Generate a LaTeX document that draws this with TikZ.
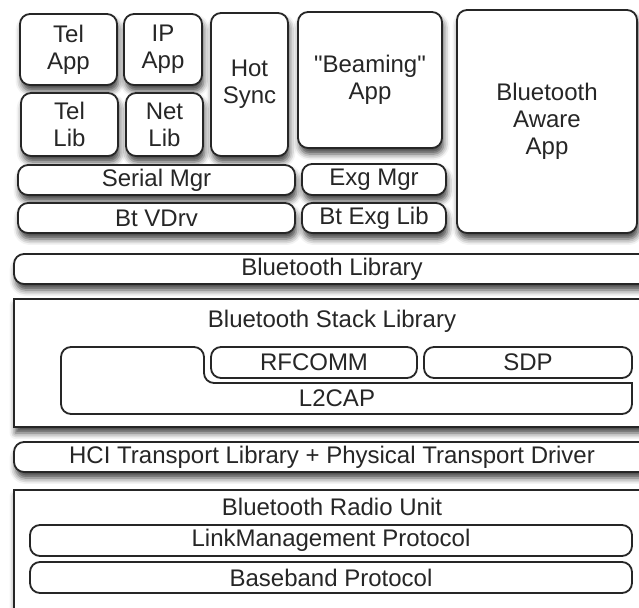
\documentclass[tikz,border=0pt]{standalone}
\usepackage{fontspec}
\setmainfont{Liberation Sans}
\usetikzlibrary{shadows.blur}

\begin{document}
\begin{tikzpicture}[x=0.5pt,y=-0.5pt,
 lbl/.style={font=\fontsize{12}{13.5}\selectfont,text=black!85},
 lay/.style={lbl,draw=black!85,line width=0.9pt,fill=white,rounded corners=5pt,align=center,inner sep=0pt},
 frm/.style={lay,sharp corners},
 sh/.style={blur shadow={shadow xshift=0.8pt,shadow yshift=-3pt,shadow blur radius=3pt,shadow opacity=75}}]
\useasboundingbox (0,0) rectangle (639,608);
\clip (0,0) rectangle (639,608);
% applications
\node[lay,sh,minimum width=48.5pt,minimum height=35.5pt] (telapp) at(68.5,49.5){Tel\\App};
\node[lay,sh,minimum width=39pt,minimum height=35.5pt] (ipapp) at(163,49.5){IP\\App};
\node[lay,sh,minimum width=48.5pt,minimum height=31.5pt] (tellib) at(69.5,124.5){Tel\\Lib};
\node[lay,sh,minimum width=38.5pt,minimum height=31.5pt] (netlib) at(164.5,124.5){Net\\Lib};
\node[lay,sh,minimum width=38.5pt,minimum height=71.5pt] (hotsync) at(249.5,84.5){Hot\\Sync};
\node[lay,sh,minimum width=72pt,minimum height=68pt] (beam) at(370,80){\textquotedbl Beaming\textquotedbl\\App};
\node[lay,sh,minimum width=90pt,minimum height=111.5pt] (btaware) at(547,121.5){Bluetooth\\Aware\\App};
% managers and drivers
\node[lay,sh,minimum width=138.5pt,minimum height=15pt] (sermgr) at(156.5,180){Serial Mgr};
\node[lay,sh,minimum width=72pt,minimum height=15.5pt] (exgmgr) at(374,179.5){Exg Mgr};
\node[lay,sh,minimum width=138.5pt,minimum height=15pt] (btvdrv) at(156.5,218){Bt VDrv};
\node[lay,sh,minimum width=72pt,minimum height=15pt] (exglib) at(374,218){Bt Exg Lib};
\node[lay,sh,minimum width=318pt,minimum height=15pt] (btlib) at(332,269){Bluetooth Library};
% stack
\node[frm,sh,minimum width=318pt,minimum height=64pt] (stack) at(332,363){};
\node[lbl] (stacklbl) at(332,321){Bluetooth Stack Library};
\draw[draw=black!85,line width=0.9pt,rounded corners=5pt] (61,380) -- (61,347) -- (204,347) -- (204,383)
 [sharp corners] -- (632,383) [rounded corners=5pt] -- (632,414) -- (61,414) -- cycle;
\node[lbl] (l2cap) at(337,398.5){L2CAP};
\node[lay,minimum width=103pt,minimum height=15.5pt] (rfcomm) at(314,362.5){RFCOMM};
\node[lay,minimum width=104pt,minimum height=15.5pt] (sdp) at(528,362.5){SDP};
% transport
\node[lay,sh,minimum width=318pt,minimum height=15pt] (hci) at(332,457){HCI Transport Library + Physical Transport Driver};
% radio
\node[frm,sh,minimum width=318pt,minimum height=65pt] (radio) at(332,555){};
\node[lbl] (radiolbl) at(332,507){Bluetooth Radio Unit};
\node[lay,minimum width=301pt,minimum height=15.5pt] (lmp) at(331,540.5){LinkManagement Protocol};
\node[lay,minimum width=301pt,minimum height=15.5pt] (bb) at(331,577.5){Baseband Protocol};
\end{tikzpicture}
\end{document}
